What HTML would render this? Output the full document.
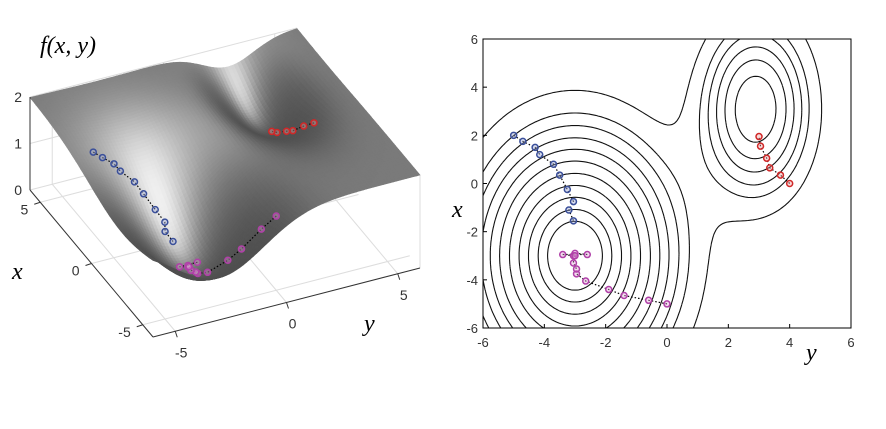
<!DOCTYPE html>
<html><head><meta charset="utf-8"><style>
body{margin:0;background:#fff;}
svg{display:block;font-family:"Liberation Sans",sans-serif;}
.lab{font-family:"Liberation Serif",serif;font-style:italic;}
</style></head><body>
<svg id="root" width="886" height="429">
<g id="surf"></g>
<g id="cont"></g>
</svg>
<script>
// trajectory data (y, x coordinates)
const blueY=[-5,-4.7,-4.3,-4.15,-3.7,-3.5,-3.25,-3.05,-3.2,-3.05];
const blueX=[2,1.75,1.5,1.2,0.8,0.35,-0.25,-0.75,-1.1,-1.55];
const magY=[0,-0.6,-1.4,-1.9,-2.65,-2.95,-2.95,-3.05,-3.05,-3.4,-2.6,-3.0,-3.0];
const magX=[-5,-4.85,-4.65,-4.4,-4.05,-3.75,-3.55,-3.3,-3.0,-2.95,-2.95,-2.9,-3.0];
const redY=[4,3.7,3.35,3.25,3.05,3];
const redX=[0,0.35,0.65,1.05,1.55,1.95];
const xTicks=[-6,-4,-2,0,2,4,6];
const yTicks=[-6,-4,-2,0,2,4,6];
const levels=[0.19,0.33,0.50,0.68,0.87,1.06,1.23,1.38,1.52,1.64,1.8];

const NS='http://www.w3.org/2000/svg';
function mk(tag,attrs,parent,txt){const e=document.createElementNS(NS,tag);for(const k in attrs)e.setAttribute(k,attrs[k]);if(txt!==undefined)e.textContent=txt;parent.appendChild(e);return e;}
function f(x,y){
  return 2-2*Math.exp(-((x+3)**2/(2*3.2*3.2)+(y+3)**2/(2*2.0*2.0)))
          -1.1*Math.exp(-((x-3.1)**2/(2*2.4*2.4)+(y-2.9)**2/(2*1.16*1.16)));
}
const zf=(x,y)=>0.3+0.85*f(x,y);
// ---------- contour plot ----------
const cont=document.getElementById('cont');
const L=483,R=851,T=39,B=328;
const sx=y=>L+(y+6)/12*(R-L);
const sy=x=>T+(6-x)/12*(B-T);
const fr=mk('rect',{x:L,y:T,width:R-L,height:B-T,fill:'none',stroke:'#000','stroke-width':1},cont);


const N=150;
let d='';
for(const lv of levels){
  for(let i=0;i<N;i++)for(let j=0;j<N;j++){
    const y0=-6+12*i/N,y1=-6+12*(i+1)/N,x0=-6+12*j/N,x1=-6+12*(j+1)/N;
    const v=[f(x0,y0)-lv,f(x0,y1)-lv,f(x1,y1)-lv,f(x1,y0)-lv];
    const c=[[y0,x0],[y1,x0],[y1,x1],[y0,x1]];
    const pts=[];
    for(let k=0;k<4;k++){const a=v[k],b=v[(k+1)%4];if((a<0)!==(b<0)){const t=a/(a-b);const p=c[k],q=c[(k+1)%4];pts.push([p[0]+t*(q[0]-p[0]),p[1]+t*(q[1]-p[1])]);}}
    for(let k=0;k+1<pts.length;k+=2)d+='M'+sx(pts[k][0]).toFixed(1)+' '+sy(pts[k][1]).toFixed(1)+'L'+sx(pts[k+1][0]).toFixed(1)+' '+sy(pts[k+1][1]).toFixed(1);
  }
}
const cp=mk('path',{d:d,fill:'none',stroke:'#111','stroke-width':1.1},cont);


xTicks.forEach(t=>{
  mk('line',{x1:sx(t),x2:sx(t),y1:B,y2:B-4,stroke:'#000'},cont);
  const e=mk('text',{x:sx(t),y:B+19,'font-size':13,'text-anchor':'middle',fill:'#333'},cont,String(t));
  
  
});
yTicks.forEach(t=>{
  mk('line',{x1:L,x2:L+4,y1:sy(t),y2:sy(t),stroke:'#000'},cont);
  const e=mk('text',{x:L-5,y:sy(t)+5,'font-size':13,'text-anchor':'end',fill:'#333'},cont,String(t));
  
  
});
let t1=mk('text',{x:452,y:217,'font-size':24,class:'lab'},cont,'x');

let t2=mk('text',{x:806,y:360,'font-size':24,class:'lab'},cont,'y');

function traj(g,Y,X,col,fill,px,py,name){
  let pd='';Y.forEach((y,i)=>{pd+=(i?'L':'M')+px(y,X[i]).toFixed(1)+' '+py(y,X[i]).toFixed(1);});
  const l=mk('path',{d:pd,fill:'none',stroke:'#000','stroke-width':1.2,'stroke-dasharray':'1.5 2'},g);
  
  
  Y.forEach((y,i)=>{
    const c=mk('circle',{cx:px(y,X[i]),cy:py(y,X[i]),r:3,fill:fill,'fill-opacity':0.4,stroke:col,'stroke-width':1.5},g);
    
    
  });
}
traj(cont,blueY,blueX,'#3a4f9a','#9aa8d8',(y,x)=>sx(y),(y,x)=>sy(x),'blue-trajectory');
traj(cont,magY,magX,'#b040a8','#e0a0d8',(y,x)=>sx(y),(y,x)=>sy(x),'magenta-trajectory');
traj(cont,redY,redX,'#d02828','#f0a0a0',(y,x)=>sx(y),(y,x)=>sy(x),'red-trajectory');

// ---------- 3D surface ----------
const surf=document.getElementById('surf');
function P(x,y,z){const a=x+6,b=y+6;return [153-10.25*a+22.25*b,337-12.25*a-5.75*b-46.5*z];}
function pstr(p){return p[0].toFixed(1)+','+p[1].toFixed(1);}
const gl='#ddd';
[0,1,2].forEach(z=>{mk('line',{x1:P(6,-6,z)[0],y1:P(6,-6,z)[1],x2:P(6,6,z)[0],y2:P(6,6,z)[1],stroke:gl},surf);});
[-5,0,5].forEach(v=>{
  mk('line',{x1:P(v,-6,0)[0],y1:P(v,-6,0)[1],x2:P(v,6,0)[0],y2:P(v,6,0)[1],stroke:gl},surf);
  mk('line',{x1:P(-6,v,0)[0],y1:P(-6,v,0)[1],x2:P(6,v,0)[0],y2:P(6,v,0)[1],stroke:gl},surf);
  mk('line',{x1:P(6,v,0)[0],y1:P(6,v,0)[1],x2:P(6,v,2)[0],y2:P(6,v,2)[1],stroke:gl},surf);
});
mk('line',{x1:P(6,6,0)[0],y1:P(6,6,0)[1],x2:P(6,6,2)[0],y2:P(6,6,2)[1],stroke:gl},surf);
mk('line',{x1:P(-6,6,0)[0],y1:P(-6,6,0)[1],x2:P(-6,6,2)[0],y2:P(-6,6,2)[1],stroke:gl},surf);
const M=80,quads=[];
let Lx=-0.7,Ly=-0.05,Lz=0.7;{const n=Math.hypot(Lx,Ly,Lz);Lx/=n;Ly/=n;Lz/=n;}
for(let i=0;i<M;i++)for(let j=0;j<M;j++){
  const x0=-6+12*i/M,x1=-6+12*(i+1)/M,y0=-6+12*j/M,y1=-6+12*(j+1)/M;
  const xm=(x0+x1)/2,ym=(y0+y1)/2,h=0.01;
  const fx=(zf(xm+h,ym)-zf(xm-h,ym))/(2*h),fy=(zf(xm,ym+h)-zf(xm,ym-h))/(2*h);
  let nx=-2*fx,ny=-2*fy,nz=1;const nn=Math.hypot(nx,ny,nz);
  const dot=Math.max(0,(nx*Lx+ny*Ly+nz*Lz)/nn);
  const g=Math.round(Math.min(255,78+177*Math.pow(dot,4)));
  quads.push({k:xm*12.25+ym*5.75,pts:[P(x0,y0,zf(x0,y0)),P(x0,y1,zf(x0,y1)),P(x1,y1,zf(x1,y1)),P(x1,y0,zf(x1,y0))],g:g});
}
quads.sort((a,b)=>b.k-a.k);
const sg=mk('g',{},surf);


quads.forEach(q=>{const c='rgb('+q.g+','+q.g+','+q.g+')';mk('polygon',{points:q.pts.map(pstr).join(' '),fill:c,stroke:c,'stroke-width':0.6},sg);});
const ax=mk('g',{stroke:'#333','stroke-width':1},surf);


mk('line',{x1:P(6,-6,0)[0],y1:P(6,-6,0)[1],x2:P(6,-6,2)[0],y2:P(6,-6,2)[1]},ax);
mk('line',{x1:P(6,-6,0)[0],y1:P(6,-6,0)[1],x2:P(-6,-6,0)[0],y2:P(-6,-6,0)[1]},ax);
mk('line',{x1:P(-6,-6,0)[0],y1:P(-6,-6,0)[1],x2:P(-6,6,0)[0],y2:P(-6,6,0)[1]},ax);
[0,1,2].forEach(z=>{const p=P(6,-6,z);const e=mk('text',{x:p[0]-8,y:p[1]+5,'font-size':14,'text-anchor':'end',fill:'#333'},surf,String(z));});
[-5,0,5].forEach(v=>{const p=P(v,-6,0);mk('line',{x1:p[0],y1:p[1],x2:p[0]-6,y2:p[1]+2,stroke:'#333'},surf);const e=mk('text',{x:p[0]-12,y:p[1]+12,'font-size':14,'text-anchor':'end',fill:'#333'},surf,String(v));});
[-5,0,5].forEach(v=>{const p=P(-6,v,0);mk('line',{x1:p[0],y1:p[1],x2:p[0]+2,y2:p[1]+6,stroke:'#333'},surf);const e=mk('text',{x:p[0]+6,y:p[1]+26,'font-size':14,'text-anchor':'middle',fill:'#333'},surf,String(v));});
let t3=mk('text',{x:40,y:53,'font-size':24,class:'lab'},surf,'f(x, y)');

let t4=mk('text',{x:12,y:279,'font-size':24,class:'lab'},surf,'x');

let t5=mk('text',{x:364,y:331,'font-size':24,class:'lab'},surf,'y');

const px3=(y,x)=>P(x,y,zf(x,y)+0.05)[0],py3=(y,x)=>P(x,y,zf(x,y)+0.05)[1];
traj(surf,blueY,blueX,'#3a4f9a','#9aa8d8',px3,py3,'blue-trajectory-3d');
traj(surf,magY,magX,'#b040a8','#e0a0d8',px3,py3,'magenta-trajectory-3d');
traj(surf,redY,redX,'#d02828','#f0a0a0',px3,py3,'red-trajectory-3d');
</script>
</body></html>
